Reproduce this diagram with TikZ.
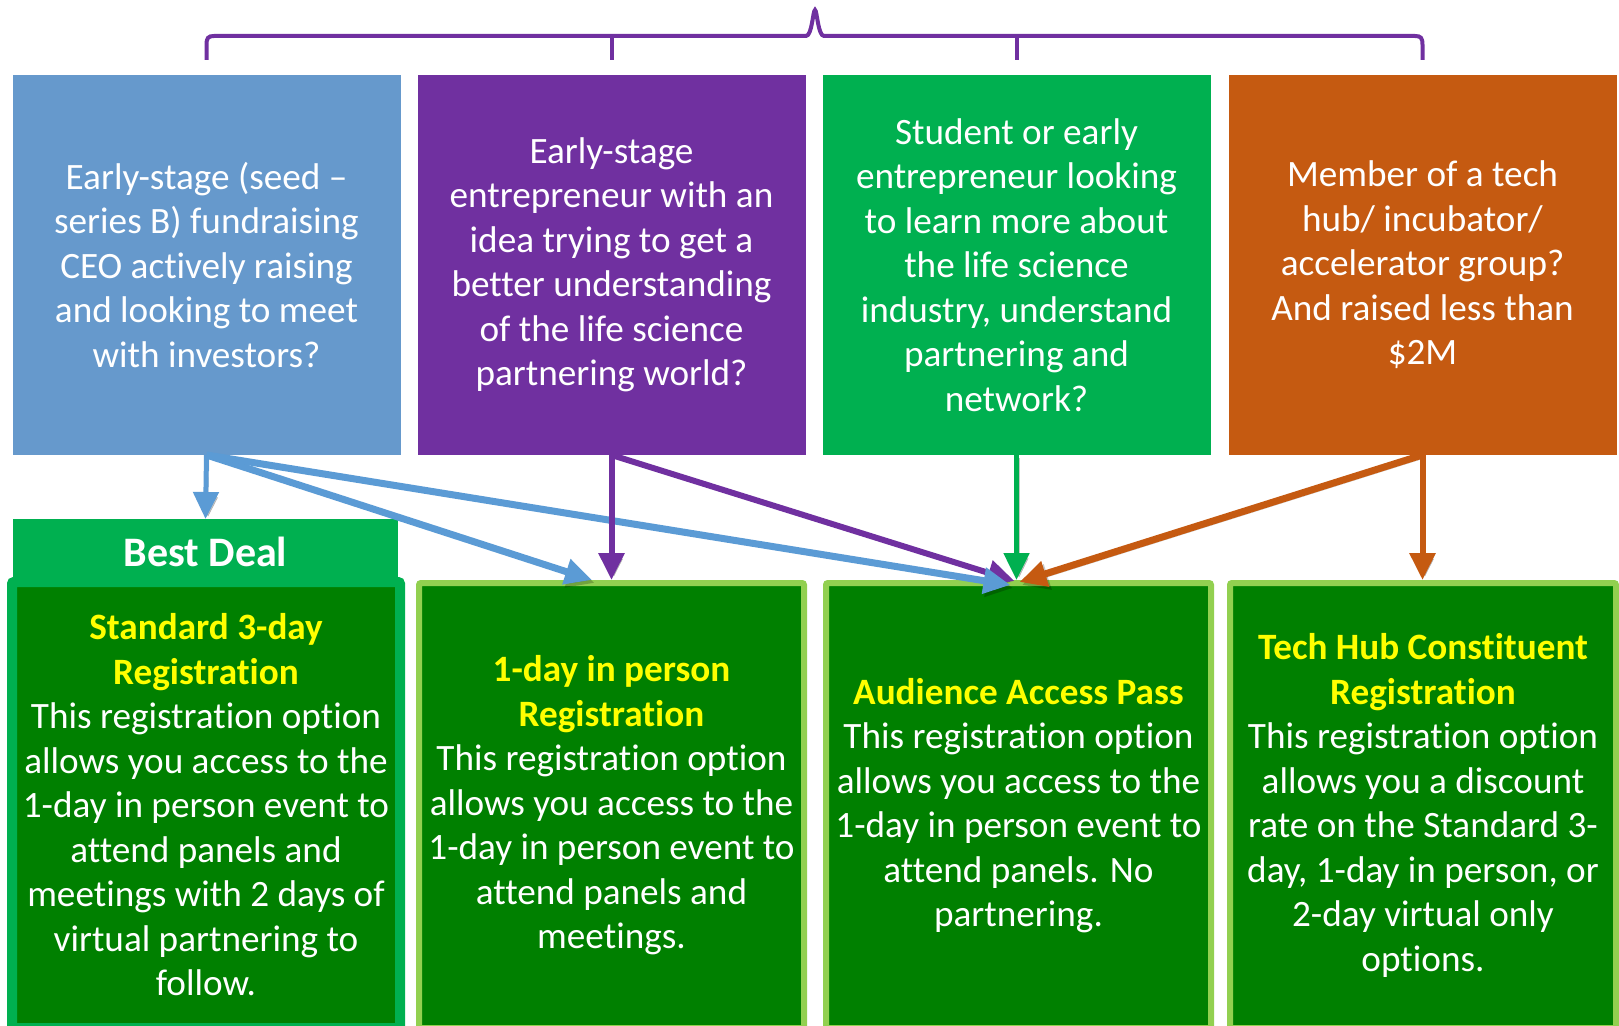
\documentclass[tikz,border=0pt]{standalone}
\usepackage{fontspec}
\setmainfont{Carlito}[Ligatures={TeX,NoCommon}]
\usetikzlibrary{arrows.meta,calc}
\definecolor{boxblue}{HTML}{6699CC}
\definecolor{boxpurple}{HTML}{7030A0}
\definecolor{boxgreen}{HTML}{00B050}
\definecolor{boxorange}{HTML}{C55A11}
\definecolor{dkgreen}{HTML}{008000}
\definecolor{ltgreen}{HTML}{92D050}
\definecolor{arrblue}{HTML}{5B9BD5}
\definecolor{ttlyellow}{HTML}{FFFF00}
\newcommand{\yt}[1]{\textcolor{ttlyellow}{\bfseries #1}}
\begin{document}
\begin{tikzpicture}[x=1pt,y=-1pt,
  topbox/.style={minimum width=388pt, minimum height=380pt, inner sep=0pt, outer sep=0pt,
    align=center, text=white, font=\fontsize{37.2}{44.5}\selectfont},
  botbox/.style={fill=dkgreen, draw=ltgreen, line width=6pt, rounded corners=2pt,
    minimum width=385pt, minimum height=445pt, inner sep=0pt, outer sep=0pt,
    align=center, text=white, font=\fontsize{37.2}{44.5}\selectfont},
  arr/.style={line width=6pt, -{Triangle[width=25pt,length=27pt]},
    preaction={draw=black, opacity=0.22, transform canvas={shift={(2.5pt,-3pt)}}}},
  brace/.style={draw=boxpurple, line width=4pt}
]
\clip (0,0) rectangle (1619,1025);
\fill[white] (0,0) rectangle (1619,1025);

% top boxes
\node[topbox, fill=boxblue] (t1) at (206.5,265) {Early-stage (seed –\\series B) fundraising\\CEO actively raising\\and looking to meet\\with investors?};
\node[topbox, fill=boxpurple] (t2) at (611.5,265) {Early-stage\\entrepreneur with an\\idea trying to get a\\better understanding\\of the life science\\partnering world?};
\node[topbox, fill=boxgreen] (t3) at (1016.5,265) {Student or early\\entrepreneur looking\\to learn more about\\the life science\\industry, understand\\partnering and\\network?};
\node[topbox, fill=boxorange] (t4) at (1422.5,265) {Member of a tech\\hub/ incubator/\\accelerator group?\\And raised less than\\\$2M};

% brace
\draw[brace] (206.5,60) -- (206.5,45) .. controls (206.5,38) and (208,36) .. (214,36)
  -- (806,36) .. controls (812,36) and (813,10) .. (815,10)
  .. controls (817,10) and (818,36) .. (824,36)
  -- (1415,36) .. controls (1421,36) and (1422.5,38) .. (1422.5,45) -- (1422.5,60);
\draw[brace] (611.5,36) -- (611.5,60);
\draw[brace] (1016.5,36) -- (1016.5,60);

% best deal tab
\node[fill=boxgreen, minimum width=385pt, minimum height=66pt, inner sep=0pt, outer sep=0pt,
  text=white, font=\fontsize{42}{50}\selectfont\bfseries] (bd) at (205.5,552) {Best Deal};

% bottom boxes
\node[botbox, draw=boxgreen, line width=10pt, minimum width=388pt, minimum height=446pt] (b1) at (206,805)
  {\yt{Standard 3-day}\\\yt{Registration}\\This registration option\\allows you access to the\\1-day in person event to\\attend panels and\\meetings with 2 days of\\virtual partnering to\\follow.};
\node[botbox] (b2) at (611.5,805.5)
  {\yt{1-day in person}\\\yt{Registration}\\This registration option\\allows you access to the\\1-day in person event to\\attend panels and\\meetings.};
\node[botbox] (b3) at (1018.5,805.5)
  {\yt{Audience Access Pass}\\This registration option\\allows you access to the\\1-day in person event to\\attend panels. No\\partnering.};
\node[botbox, minimum width=386pt] (b4) at (1423,805.5)
  {\yt{Tech Hub Constituent}\\\yt{Registration}\\This registration option\\allows you a discount\\rate on the Standard 3-\\day, 1-day in person, or\\2-day virtual only\\options.};

% connectors
\draw[arr, boxpurple] (t2.south) -- ($(b3.north)+(-4,-2)$);
\draw[arr, arrblue, line width=5pt] (t1.south) -- (bd.north);
\draw[arr, arrblue, line width=7pt] (t1.south) -- ($(b2.north)+(-19.5,-3)$);
\draw[arr, arrblue, line width=7pt] (t1.south) -- ($(b3.north)+(-8,2)$);
\draw[arr, boxpurple] (t2.south) -- ($(t2.south |- b2.north)+(0,-3)$);
\draw[arr, boxgreen, line width=5pt] (t3.south) -- ($(t3.south |- b3.north)+(0,-3)$);
\draw[arr, boxorange, line width=7pt] (t4.south) -- ($(b3.north)+(1,-1)$);
\draw[arr, boxorange] (t4.south) -- ($(t4.south |- b4.north)+(0,-3)$);
\end{tikzpicture}
\end{document}
